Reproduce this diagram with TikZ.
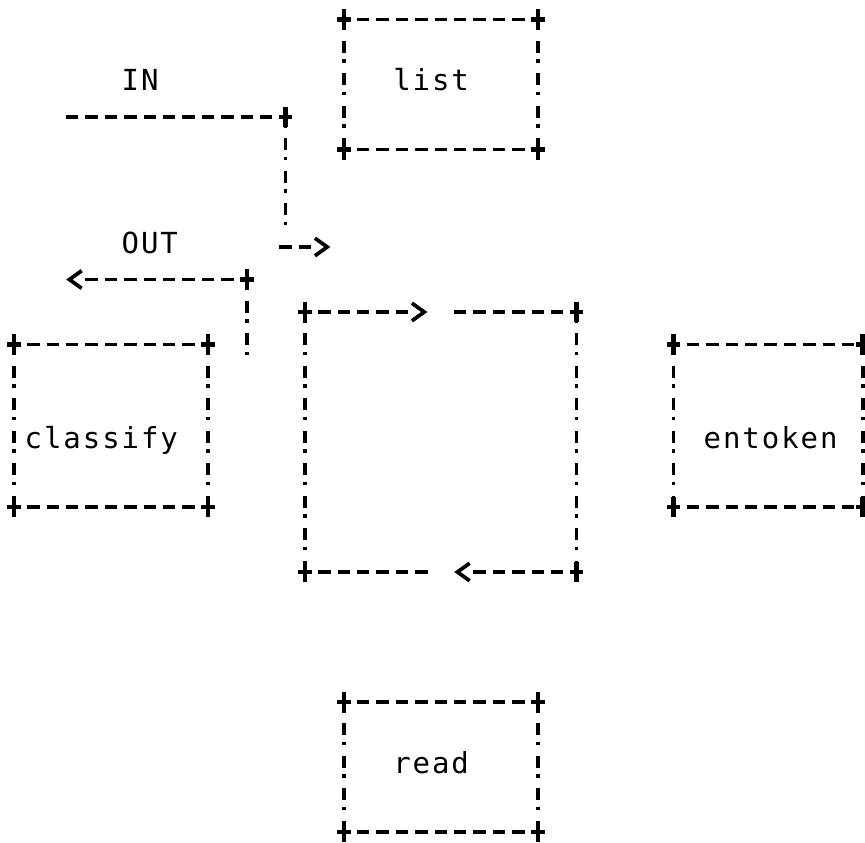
\documentclass[tikz,border=0pt]{standalone}
\usepackage{fontspec}
\newfontfamily\prtfont{DejaVu Sans Mono}[LetterSpace=6.7]
\usetikzlibrary{arrows.meta}

% one unit = one character cell of the printout
\tikzset{
  hdash/.style={line width=2.1pt, dash pattern=on 7pt off 4.04pt, dash phase=3.5pt},
  vdash/.style={line width=2.1pt, dash pattern=on 7pt off 3.5pt on 2.2pt off 5.79pt, dash phase=6.49pt},
  chev/.style={-{Straight Barb[length=7pt,width=10pt]}},
  lbl/.style={font=\prtfont\fontsize{16.5}{20}\selectfont, inner sep=0pt, text height=0.73em, text depth=0pt},
  crossmark/.pic={\draw[line width=2.6pt] (-0.35,0) -- (0.35,0) (0,-0.32) -- (0,0.32);}
}

% name, left col, top row, right col, bottom row
\newcommand{\asciibox}[5]{%
  \coordinate (#1 nw) at (#2,#3); \coordinate (#1 ne) at (#4,#3);
  \coordinate (#1 sw) at (#2,#5); \coordinate (#1 se) at (#4,#5);
  \draw[hdash] (#1 nw) -- (#1 ne);
  \draw[hdash] (#1 sw) -- (#1 se);
  \draw[vdash] (#1 nw) -- (#1 sw);
  \draw[vdash] (#1 ne) -- (#1 se);
  \foreach \k in {nw,ne,sw,se} \pic at (#1 \k) {crossmark};
}

\begin{document}
\begin{tikzpicture}[x=0.388cm,y=-0.65cm]
        \useasboundingbox (-0.7216,-0.6) rectangle (43.866,25.308);

        \asciibox{lst}{17}{0}{27}{4}
        \asciibox{cls}{0}{10}{10}{15}
        \asciibox{ent}{34}{10}{43.75}{15}
        \asciibox{rd}{17}{21}{27}{25}

        \node[lbl] (list) at (21.5,2) {list};
        \node[lbl] (classify) at (4.5,13) {classify};
        \node[lbl] (entoken) at (39,13) {entoken};
        \node[lbl] (read) at (21.5,23) {read};
        \node[lbl] (in) at (6.5,2) {IN};
        \node[lbl] (out) at (7,7) {OUT};

        % IN comes in and goes down to the loop
        \coordinate (in start) at (2.68,3);
        \coordinate (in corner) at (14,3);
        \coordinate (in end) at (14,6.35);
        \draw[hdash] (in corner) -- (in start);
        \draw[vdash] (in corner) -- (in end);
        \pic at (in corner) {crossmark};
        \draw[hdash,dash phase=0pt,chev] (13.68,7) -- (15.32,7) (16.16,7) -- (16.31,7);

        % OUT goes up from the loop and leaves
        \coordinate (out corner) at (12,8);
        \coordinate (out end) at (12,10.35);
        \draw[vdash] (out corner) -- (out end);
        \draw[hdash,chev] (out corner) -- (3.68,8) (2.84,8) -- (2.69,8);
        \pic at (out corner) {crossmark};

        % the loop
        \coordinate (loop nw) at (15,9);
        \coordinate (loop ne) at (29,9);
        \coordinate (loop sw) at (15,17);
        \coordinate (loop se) at (29,17);
        \draw[hdash,chev] (loop nw) -- (20.32,9) (21.16,9) -- (21.31,9);
        \draw[hdash] (loop ne) -- (22.68,9);
        \draw[vdash] (loop ne) -- (loop se);
        \draw[hdash,chev] (loop se) -- (23.68,17) (22.84,17) -- (22.69,17);
        \draw[hdash] (loop sw) -- (21.32,17);
        \draw[vdash] (loop nw) -- (loop sw);
        \foreach \k in {nw,ne,sw,se} \pic at (loop \k) {crossmark};

      \end{tikzpicture}
\end{document}
